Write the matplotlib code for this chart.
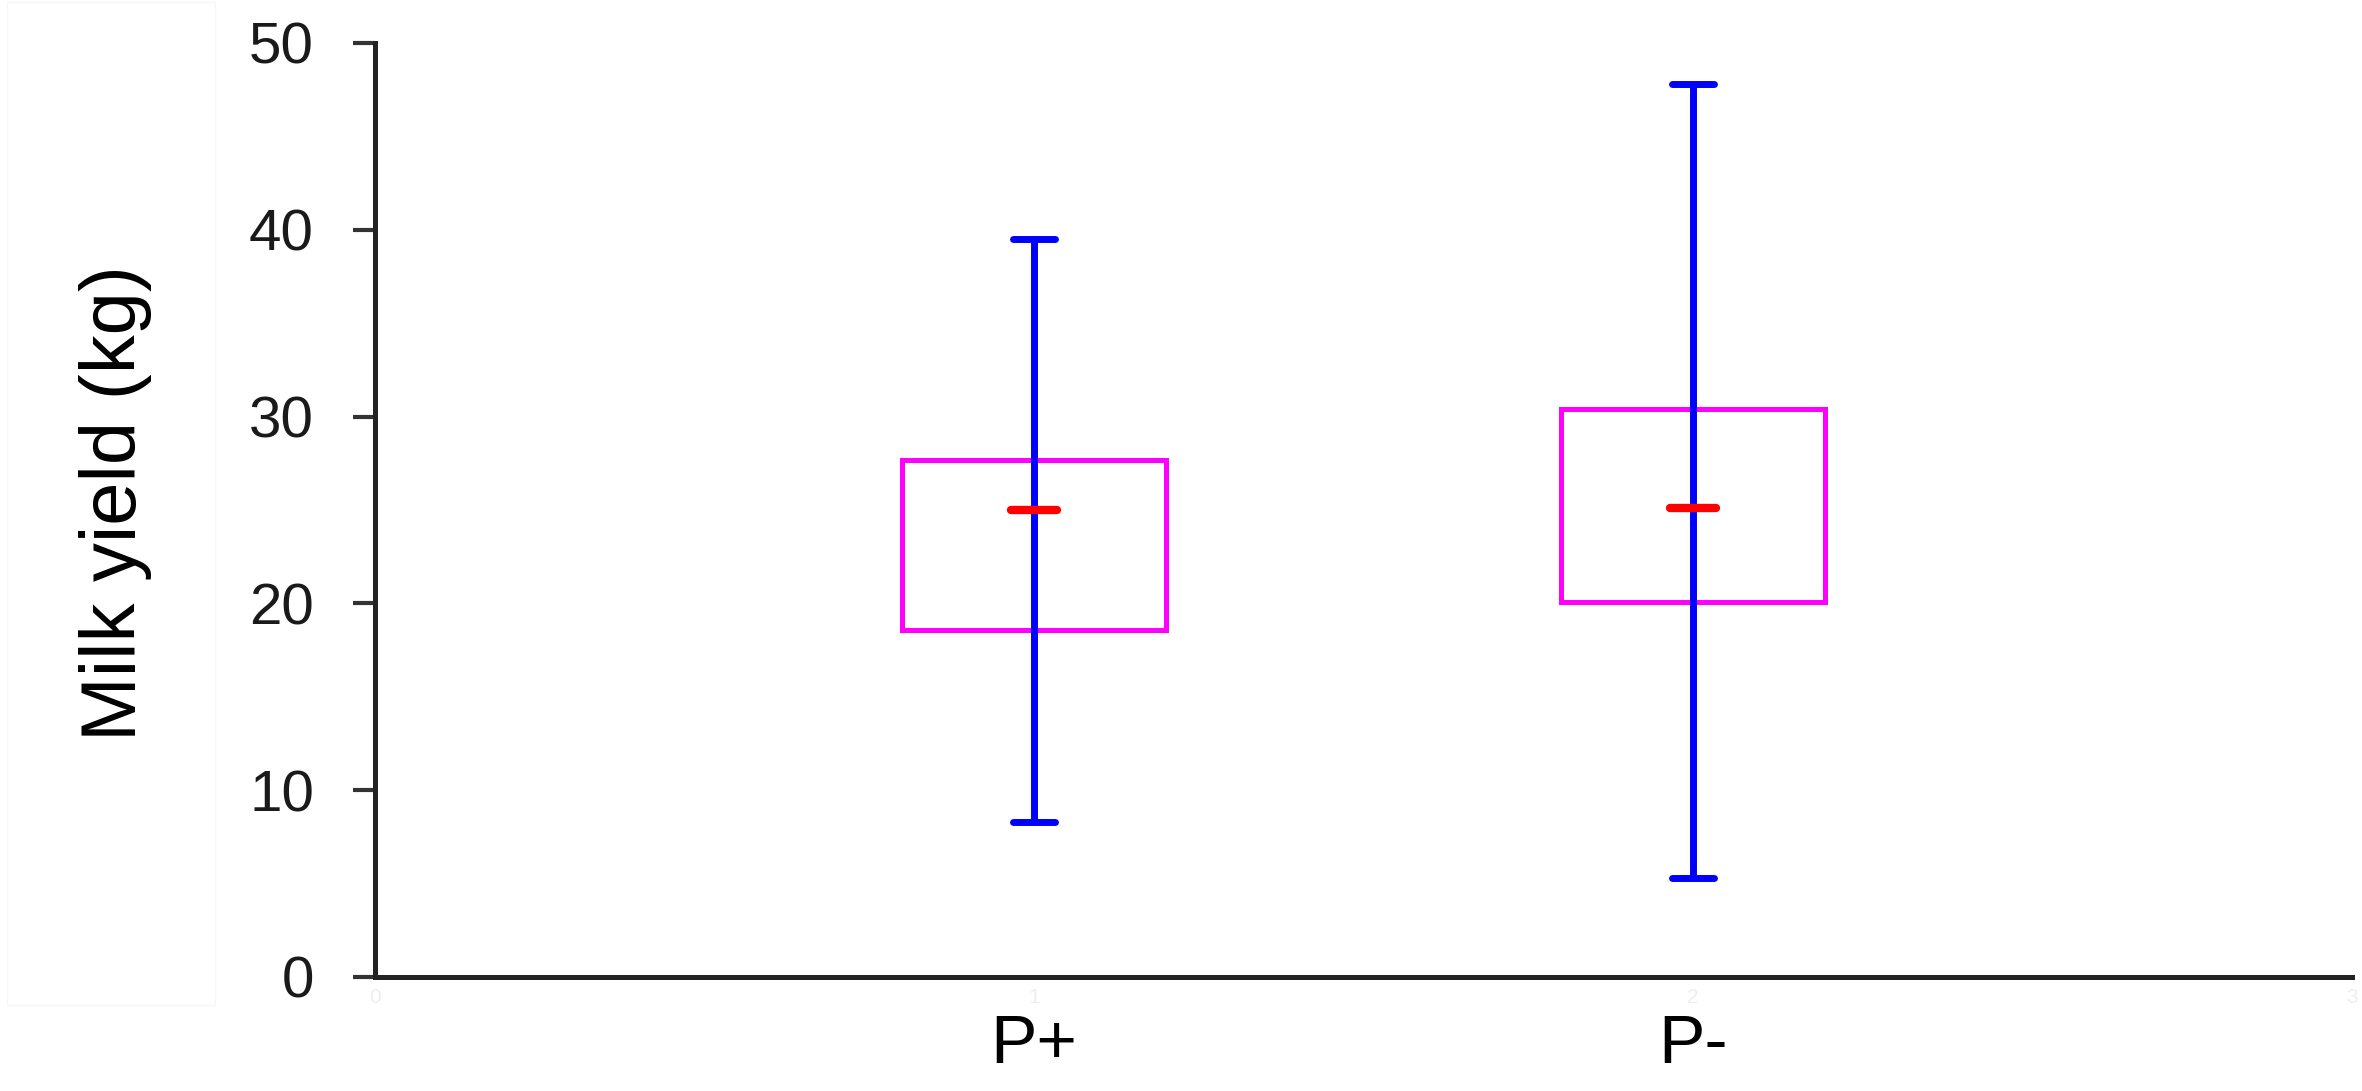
import matplotlib
matplotlib.use("Agg")
import matplotlib.pyplot as plt
from matplotlib.patches import Rectangle

# Data
groups = ["P+", "P-"]
positions = [1, 2]
whisker_low = [8.3, 5.3]
whisker_high = [39.5, 47.8]
box_low = [18.6, 20.1]
box_high = [27.7, 30.4]
means = [25.0, 25.1]
yticks = [0, 10, 20, 30, 40, 50]
faint_xticks = [0, 1, 2, 3]

plt.rcParams['font.family'] = ['Liberation Sans', 'DejaVu Sans']

fig = plt.figure(figsize=(23.62, 10.91), dpi=100)
ax = fig.add_axes([375/2362, 1 - 977/1091, (2352 - 375)/2362, (977 - 43)/1091])

# faint frame around the y-label area
fig.add_artist(Rectangle((7/2362, 1 - 1005/1091), (215 - 7)/2362, 1005/1091 - 0.002,
                         transform=fig.transFigure, fill=False, edgecolor='#f7f7f7', lw=1.0))

box_w = 0.4
cap_half = 0.032
mean_half = 0.035

for x, lo, hi, b0, b1, m in zip(positions, whisker_low, whisker_high, box_low, box_high, means):
    ax.add_patch(Rectangle((x - box_w/2, b0), box_w, b1 - b0, fill=False,
                           edgecolor='#ff00ff', lw=3.6, zorder=2, joinstyle='miter'))
    ax.plot([x, x], [lo, hi], color='#0000ff', lw=5, zorder=3, solid_capstyle='butt')
    ax.plot([x - cap_half, x + cap_half], [hi, hi], color='#0000ff', lw=5, zorder=3, solid_capstyle='round')
    ax.plot([x - cap_half, x + cap_half], [lo, lo], color='#0000ff', lw=5, zorder=3, solid_capstyle='round')
    ax.plot([x - mean_half, x + mean_half], [m, m], color='#ff0000', lw=6, zorder=4, solid_capstyle='round')

ax.set_xlim(0, 3)
ax.set_ylim(0, 50)
ax.set_yticks(yticks)
ax.set_yticklabels([str(v) for v in yticks], fontsize=42, color='#1a1a1a')
ax.tick_params(axis='y', length=16, width=3, color='#333333', pad=28)

ax.xaxis.remove_overlapping_locs = False
ax.set_xticks(faint_xticks)
ax.set_xticklabels([str(v) for v in faint_xticks], fontsize=15, color='#eeeeee')
ax.set_xticks(positions, minor=True)
ax.set_xticklabels(groups, minor=True, fontsize=50, color='black')
ax.tick_params(axis='x', which='major', length=0, pad=8)
ax.tick_params(axis='x', which='minor', length=0, pad=26)

for s in ['top', 'right']:
    ax.spines[s].set_visible(False)
for s in ['left', 'bottom']:
    ax.spines[s].set_linewidth(3.6)
    ax.spines[s].set_color('#222222')

ax.set_ylabel("Milk yield (kg)", fontsize=56)
ax.yaxis.set_label_coords(-(375 - 152)/(2352 - 375), (977 - 503)/(977 - 43))

fig.savefig("out.png", dpi=100)
